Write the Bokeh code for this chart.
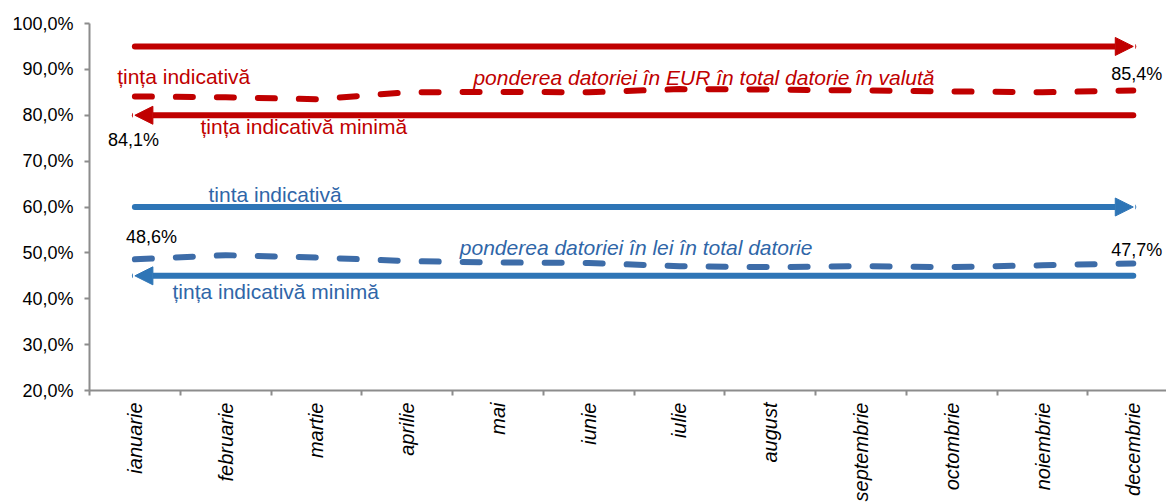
from bokeh.plotting import figure
from bokeh.models import Range1d, FixedTicker, Arrow, NormalHead, ColumnDataSource
from bokeh.core.properties import value
from bokeh.embed import file_html
from bokeh.resources import INLINE

# ---- data ----
months = ["ianuarie", "februarie", "martie", "aprilie", "mai", "iunie",
          "iulie", "august", "septembrie", "octombrie", "noiembrie", "decembrie"]
eur_share = [84.1, 83.9, 83.5, 85.0, 85.1, 85.0, 85.7, 85.6, 85.4, 85.2, 85.0, 85.4]
lei_share = [48.6, 49.5, 49.0, 48.2, 47.9, 47.8, 47.1, 46.9, 47.1, 46.9, 47.3, 47.7]
eur_target = 95.0
eur_target_min = 80.0
lei_target = 60.0
lei_target_min = 45.0
y_ticks = [20, 30, 40, 50, 60, 70, 80, 90, 100]
y_tick_labels = ["20,0%", "30,0%", "40,0%", "50,0%", "60,0%", "70,0%", "80,0%", "90,0%", "100,0%"]

RED = "#C00000"
BLUE = "#2E75B6"
BLUE_D = "#3D6CA8"
BLUE_T = "#2F66A8"
FONT = "Liberation Sans"

def pct(v):
    return f"{v:.1f}".replace(".", ",") + "%"

x = list(range(len(months)))

p = figure(width=1166, height=504, output_backend="svg", toolbar_location=None,
           x_range=Range1d(-0.5, 11.366), y_range=Range1d(20, 100),
           min_border_left=89, min_border_top=23, min_border_right=0, min_border_bottom=112)
p.outline_line_color = None
p.xgrid.visible = False
p.ygrid.visible = False
p.background_fill_color = "white"
p.border_fill_color = "white"

# axes
p.yaxis.ticker = FixedTicker(ticks=y_ticks)
p.yaxis.major_label_overrides = {t: l for t, l in zip(y_ticks, y_tick_labels)}
p.xaxis.ticker = FixedTicker(ticks=x, minor_ticks=[i - 0.5 for i in range(len(months) + 1)])
p.xaxis.major_label_overrides = {i: m for i, m in zip(x, months)}
for ax in (p.xaxis[0], p.yaxis[0]):
    ax.axis_line_color = "#8C8C8C"
    ax.axis_line_width = 2
    ax.major_tick_line_color = "#8C8C8C"
    ax.minor_tick_line_color = "#8C8C8C"
    ax.major_tick_line_width = 2
    ax.minor_tick_line_width = 2
    ax.major_label_text_font = FONT
    ax.major_label_text_color = "black"
p.yaxis.major_tick_out = 5
p.yaxis.major_tick_in = 0
p.yaxis.minor_tick_line_color = None
p.yaxis.major_label_text_font_size = "18px"
p.yaxis.major_label_standoff = 11
p.xaxis.major_tick_out = 0
p.xaxis.major_tick_in = 0
p.xaxis.minor_tick_out = 5
p.xaxis.minor_tick_in = 0
p.xaxis.major_label_orientation = 1.5708
p.xaxis.major_label_standoff = 7
p.xaxis.major_label_text_font_size = "20px"
p.xaxis.major_label_text_font_style = "italic"

# target arrows
for yv, x0, x1, col in [(eur_target, 0, 11, RED), (eur_target_min, 11, 0, RED),
                        (lei_target, 0, 11, BLUE), (lei_target_min, 11, 0, BLUE)]:
    p.add_layout(Arrow(end=NormalHead(size=18, fill_color=col, line_color=col, line_width=1),
                       x_start=x0, y_start=yv, x_end=x1, y_end=yv,
                       line_color=col, line_width=6, line_cap="round"))

# share lines
p.line(x, eur_share, line_color=RED, line_width=6, line_dash="17 24", line_cap="round", line_join="round")
p.line(x, lei_share, line_color=BLUE_D, line_width=6, line_dash="17 24", line_cap="round", line_join="round")

# annotations
def txt(xv, yv, s, col, style="normal", size="21px"):
    p.text(x=[xv], y=[yv], text=[s], text_color=col, text_font=value(FONT), y_offset=-7,
           text_font_size=size, text_font_style=style, text_baseline="alphabetic", text_align="left")

txt(-0.195, 86.93, "țința indicativă", RED)
txt(3.73, 86.71, "ponderea datoriei  în EUR în total datorie în valută", RED, "italic")
txt(0.723, 75.93, "țința indicativă minimă", RED)
txt(0.811, 61.2, "tinta indicativă", BLUE_T)
txt(3.58, 49.6, "ponderea datoriei în lei în total datorie", BLUE_T, "italic")
txt(0.414, 39.95, "țința indicativă minimă", BLUE_T)

# data labels for first and last points
lab = ColumnDataSource(dict(
    x=[0, 11, 0, 11],
    y=[eur_share[0], eur_share[-1], lei_share[0], lei_share[-1]],
    t=[pct(eur_share[0]), pct(eur_share[-1]), pct(lei_share[0]), pct(lei_share[-1])],
    dx=[-27, -22, -9, -22],
    dy=[44, -16.6, -22, -13.4],
))
p.text(x="x", y="y", text="t", x_offset="dx", y_offset="dy", source=lab,
       text_color="black", text_font=value(FONT), text_font_size="18px",
       text_baseline="alphabetic", text_align="left")

open("out.html", "w").write(file_html(p, INLINE))
